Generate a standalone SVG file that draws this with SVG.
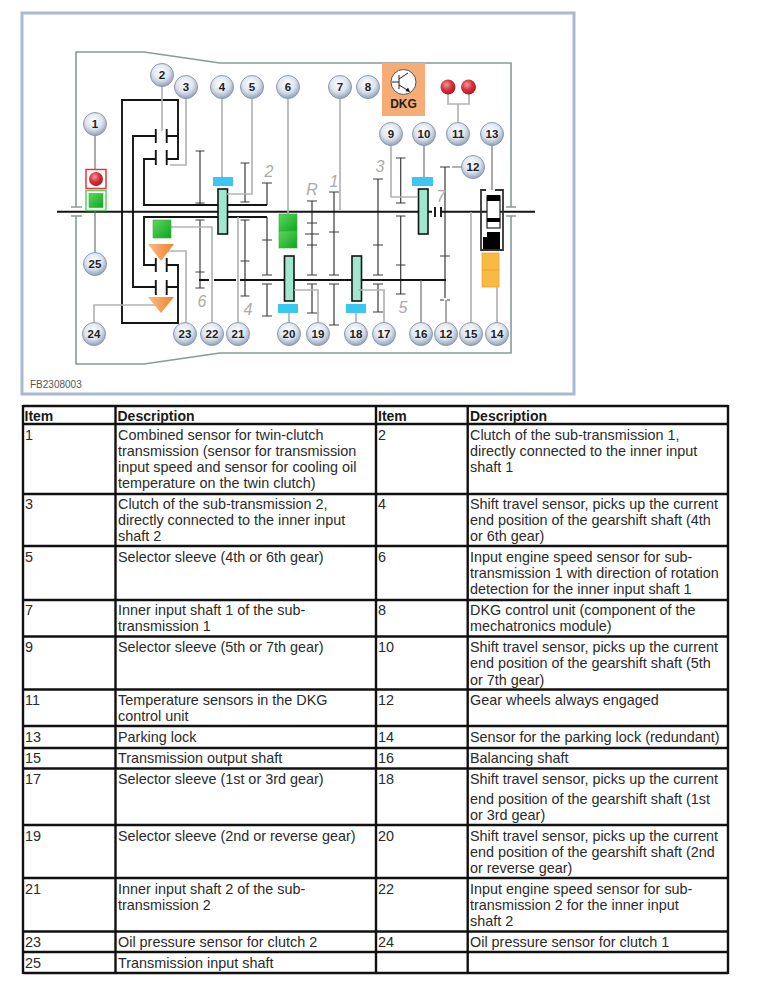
<svg xmlns="http://www.w3.org/2000/svg" width="761" height="990" viewBox="0 0 761 990">
<style>
text{font-family:"Liberation Sans",Arial,sans-serif}
.frame{fill:#fff;stroke:#a9b9d3;stroke-width:3}
.housing{fill:none;stroke:#8a9a9a;stroke-width:1.6}
.shaft{fill:none;stroke:#141414;stroke-width:1.9}
.gear{fill:none;stroke:#3a3a3a;stroke-width:1.2}
.lead{fill:none;stroke:#b4b4b4;stroke-width:1.7}
.lead1{fill:none;stroke:#666;stroke-width:1.1}
.sleeve{fill:#9fe8cf;stroke:#141414;stroke-width:1.6}
.blue{fill:#3cc6f2}
.green{fill:url(#gg);stroke:#2fae3a;stroke-width:.6}
.orange{fill:url(#og)}
.amber{fill:#f7bb45;stroke:#f0a42a;stroke-width:.8}
.badge{fill:url(#bd);stroke:#8d9bb0;stroke-width:1}
.bt{font-size:11.500px;font-weight:bold;fill:#222;text-anchor:middle}
.gn{font-size:16px;font-style:italic;fill:#aaa;text-anchor:middle}
.tl{fill:none;stroke:#111;stroke-width:2.4}
.t{font-size:14.400px;fill:#2a2a2a}
.h{font-size:14px;font-weight:bold;fill:#1a1a1a}
</style>
<defs>
<radialGradient id="bd" cx="45%" cy="36%" r="66%"><stop offset="0" stop-color="#fff"/><stop offset=".55" stop-color="#dde4ef"/><stop offset="1" stop-color="#8e9cb2"/></radialGradient>
<radialGradient id="rd" cx="40%" cy="35%" r="70%"><stop offset="0" stop-color="#f49a9a"/><stop offset=".5" stop-color="#d8323c"/><stop offset="1" stop-color="#a01822"/></radialGradient>
<linearGradient id="gg" x1="0" y1="0" x2="1" y2="1"><stop offset="0" stop-color="#5ed65e"/><stop offset="1" stop-color="#0fa51f"/></linearGradient>
<linearGradient id="og" x1="0" y1="0" x2="1" y2="0"><stop offset="0" stop-color="#f9b98a"/><stop offset="1" stop-color="#f08425"/></linearGradient>
</defs>
<rect width="761" height="990" fill="#fff"/>
<rect id="frame" class="frame" x="22" y="13" width="552" height="381"/>
<g id="housing">
<path class="housing" d="M76 207V52H144L220 63H511V207"/>
<path class="housing" d="M76 216V364H144L220 353H511V216"/>
<path class="housing" d="M71 207H82M71 216H82M506 207H516M506 216H516"/>
</g>
<g id="mechanism">
<path class="gear" d="M200 151V205M195.500 151H204.500M195.500 203H204.500M200 220V288M195.500 220H204.500M195.500 272H204.500M195.500 288H204.500"/>
<path class="gear" d="M245 163V202M240.500 163H249.500M240.500 202H249.500M245 220V296M240.500 220H249.500M240.500 261H249.500M240.500 296H249.500"/>
<path class="gear" d="M267 183V205M262 183H272M267 217V275M262 240H272M262 275H272M267 284V316M262 284H272M262 316H272"/>
<path class="gear" d="M312 201V275M307 201H317M307 223H317M305 234H319M307 245H317M307 275H317M312 284V313M307 284H317M307 313H317"/>
<path class="gear" d="M334 192V275M329 192H339M329 232H339M329 275H339M334 284V325M329 284H339M329 325H339"/>
<path class="gear" d="M378 179V275M373 179H383M373 245H383M373 275H383M378 284V312M373 284H383M373 312H383"/>
<path class="gear" d="M400.700 158V203M396 158H405.500M396 203H405.500M400.700 216V294M396 216H405.500M396 265H405.500M396 294H405.500"/>
<path class="gear" d="M445 167V298M440 167H450M440 256H450M440 300H444M447 300H450"/>
<path class="shaft" d="M57 211.700H432M441 211.700H535"/>
<path class="shaft" d="M435 207V217M441 207V217" stroke-width="1.600"/>
<path class="shaft" d="M122 211V323H178V265H167M122 212V100H178V159H167M178 136H167M178 287H167"/>
<path class="shaft" d="M133 211V136H156M133 212V287H156"/>
<path class="shaft" d="M156 159H144V205H267M156 265H144V217H267"/>
<path class="shaft" stroke-width="2.200" d="M155.800 129V143M155.800 150V165M166.700 129V143M166.700 150V165M155.800 258V272M155.800 280V295M166.700 258V272M166.700 280V295"/>
<path class="shaft" d="M199 280H209M214 280H236M240 280H284M294 280H352M361 280H446"/>
<rect class="sleeve" x="218" y="189" width="9.500" height="45"/>
<rect class="sleeve" x="418.500" y="189" width="9.500" height="45"/>
<rect class="sleeve" x="284.500" y="256" width="9.500" height="45"/>
<rect class="sleeve" x="352" y="256" width="9.500" height="45"/>
<text class="gn" x="269" y="177">2</text>
<text class="gn" x="312" y="195">R</text>
<text class="gn" x="334" y="187">1</text>
<text class="gn" x="380" y="172">3</text>
<text class="gn" x="441" y="202">7</text>
<text class="gn" x="202" y="307">6</text>
<text class="gn" x="248" y="315">4</text>
<text class="gn" x="403" y="313">5</text>
</g>
<g id="connectors">
<path class="lead1" d="M95 135V169M95 211V252"/>
<path class="lead" d="M162 87V131M186 98V165H170M222 98V178M252 98V194H227M288 98V214M340 98V210"/>
<path class="lead" d="M448 93V104H469V93M458 104V123M391 146V197H418"/>
<path class="lead1" d="M424 146V178M452 167H462M492 146V190"/>
<path class="lead" d="M94 322V305H155M186 322V251H166M212 322V227H171M238 322V217M289 322V313M318 322V290H294M356 322V313M384 322V290H358"/>
<path class="lead1" d="M421 322V280M446 322V300"/>
<path class="lead" d="M471 322V212M497 322V285"/>
</g>
<g id="node-combined-sensor">
<rect x="86" y="169.500" width="20" height="19" fill="#fff" stroke="#e03a3a" stroke-width="1.500"/>
<circle cx="96" cy="179" r="7" fill="url(#rd)"/>
<rect x="86" y="190.500" width="20" height="20" fill="#fff" stroke="#5fd05f" stroke-width="1.500"/>
<rect x="89" y="193.500" width="14" height="14" class="green"/>
</g>
<g id="node-sensor-6"><rect class="green" x="279" y="214" width="18" height="17"/><rect class="green" x="279" y="231" width="18" height="17"/></g>
<g id="node-sensor-22"><rect class="green" x="153" y="220" width="18" height="18"/></g>
<g id="node-sensor-23"><polygon class="orange" points="148,244 174,244 161,261"/></g>
<g id="node-sensor-24"><polygon class="orange" points="148,297 174,297 161,313"/></g>
<g id="node-travel-4"><rect class="blue" x="213" y="177" width="20" height="9"/></g>
<g id="node-travel-10"><rect class="blue" x="412" y="177" width="21" height="9"/></g>
<g id="node-travel-20"><rect class="blue" x="278" y="304" width="20" height="9"/></g>
<g id="node-travel-18"><rect class="blue" x="346" y="304" width="20" height="9"/></g>
<g id="node-dkg">
<rect x="382" y="63" width="43" height="53" fill="#f6ac75"/>
<circle cx="403.500" cy="82" r="12.500" fill="#fff" stroke="#555" stroke-width="1"/>
<path d="M392 82H399M399 75V89M399 79L408 73M399 85L409 91" fill="none" stroke="#222" stroke-width="1"/>
<polygon points="410,92 405.500,91 408,87.500" fill="#111"/>
<text x="403.500" y="108" font-size="12" font-weight="bold" fill="#222" text-anchor="middle">DKG</text>
</g>
<g id="node-temp"><circle cx="448" cy="87" r="7.500" fill="url(#rd)"/><circle cx="468.500" cy="87" r="7.500" fill="url(#rd)"/></g>
<g id="node-parking-lock">
<path d="M486 190H481V250H503V190H495" fill="none" stroke="#333" stroke-width="1.800"/>
<rect x="487" y="196" width="13" height="32" fill="#fff" stroke="#222" stroke-width="1.200"/>
<rect x="487" y="195" width="13" height="6" fill="#000"/>
<rect x="487" y="218" width="13" height="4" fill="#000"/>
<polygon points="483,249 483,237 487,237 487,232 500,232 500,249" fill="#000"/>
</g>
<g id="node-sensor-14"><rect class="amber" x="482" y="253" width="17" height="17"/><rect class="amber" x="482" y="270" width="17" height="17"/></g>
<g id="badges">
<g id="n1"><circle class="badge" cx="95" cy="124" r="11.500"/><text class="bt" x="95" y="128">1</text></g>
<g id="n2"><circle class="badge" cx="162" cy="75" r="11.500"/><text class="bt" x="162" y="79">2</text></g>
<g id="n3"><circle class="badge" cx="186" cy="87" r="11.500"/><text class="bt" x="186" y="91">3</text></g>
<g id="n4"><circle class="badge" cx="222" cy="87" r="11.500"/><text class="bt" x="222" y="91">4</text></g>
<g id="n5"><circle class="badge" cx="252" cy="87" r="11.500"/><text class="bt" x="252" y="91">5</text></g>
<g id="n6"><circle class="badge" cx="288" cy="87" r="11.500"/><text class="bt" x="288" y="91">6</text></g>
<g id="n7"><circle class="badge" cx="340" cy="87" r="11.500"/><text class="bt" x="340" y="91">7</text></g>
<g id="n8"><circle class="badge" cx="368" cy="87" r="11.500"/><text class="bt" x="368" y="91">8</text></g>
<g id="n9"><circle class="badge" cx="391" cy="134" r="11.500"/><text class="bt" x="391" y="138">9</text></g>
<g id="n10"><circle class="badge" cx="424" cy="134" r="11.500"/><text class="bt" x="424" y="138">10</text></g>
<g id="n11"><circle class="badge" cx="458" cy="134" r="11.500"/><text class="bt" x="458" y="138">11</text></g>
<g id="n13"><circle class="badge" cx="492" cy="134" r="11.500"/><text class="bt" x="492" y="138">13</text></g>
<g id="n12a"><circle class="badge" cx="473" cy="167" r="11.500"/><text class="bt" x="473" y="171">12</text></g>
<g id="n25"><circle class="badge" cx="95" cy="264" r="11.500"/><text class="bt" x="95" y="268">25</text></g>
<g id="n24"><circle class="badge" cx="94" cy="334" r="11.500"/><text class="bt" x="94" y="338">24</text></g>
<g id="n23"><circle class="badge" cx="185" cy="334" r="11.500"/><text class="bt" x="185" y="338">23</text></g>
<g id="n22"><circle class="badge" cx="212" cy="334" r="11.500"/><text class="bt" x="212" y="338">22</text></g>
<g id="n21"><circle class="badge" cx="238" cy="334" r="11.500"/><text class="bt" x="238" y="338">21</text></g>
<g id="n20"><circle class="badge" cx="289" cy="334" r="11.500"/><text class="bt" x="289" y="338">20</text></g>
<g id="n19"><circle class="badge" cx="318" cy="334" r="11.500"/><text class="bt" x="318" y="338">19</text></g>
<g id="n18"><circle class="badge" cx="356" cy="334" r="11.500"/><text class="bt" x="356" y="338">18</text></g>
<g id="n17"><circle class="badge" cx="384" cy="334" r="11.500"/><text class="bt" x="384" y="338">17</text></g>
<g id="n16"><circle class="badge" cx="421" cy="334" r="11.500"/><text class="bt" x="421" y="338">16</text></g>
<g id="n12b"><circle class="badge" cx="446" cy="334" r="11.500"/><text class="bt" x="446" y="338">12</text></g>
<g id="n15"><circle class="badge" cx="471" cy="334" r="11.500"/><text class="bt" x="471" y="338">15</text></g>
<g id="n14"><circle class="badge" cx="497" cy="334" r="11.500"/><text class="bt" x="497" y="338">14</text></g>
</g>
<text x="30" y="388" font-size="10" fill="#555">FB2308003</text>
<g id="table">
<path class="tl" d="M23 406H728M23 424H728M23 494H728M23 546H728M23 600H728M23 636.500H728M23 689.500H728M23 726H728M23 748H728M23 768.500H728M23 825H728M23 878H728M23 931.500H728M23 952H728M23 973H728"/>
<path class="tl" d="M23 405V974M115.500 405V974M376 405V974M467.700 405V974M728 405V974"/>
<text class="h" x="24.500" y="421">Item</text><text class="h" x="117.500" y="421">Description</text><text class="h" x="378" y="421">Item</text><text class="h" x="470" y="421">Description</text>
<text class="t"><tspan x="25" y="440">1</tspan><tspan x="118" y="440">Combined sensor for twin-clutch</tspan><tspan x="118" y="456">transmission (sensor for transmission</tspan><tspan x="118" y="472">input speed and sensor for cooling oil</tspan><tspan x="118" y="488">temperature on the twin clutch)</tspan></text>
<text class="t"><tspan x="378" y="440">2</tspan><tspan x="470" y="440">Clutch of the sub-transmission 1,</tspan><tspan x="470" y="456">directly connected to the inner input</tspan><tspan x="470" y="472">shaft 1</tspan></text>
<text class="t"><tspan x="25" y="509">3</tspan><tspan x="118" y="509">Clutch of the sub-transmission 2,</tspan><tspan x="118" y="525">directly connected to the inner input</tspan><tspan x="118" y="541">shaft 2</tspan></text>
<text class="t"><tspan x="378" y="509">4</tspan><tspan x="470" y="509">Shift travel sensor, picks up the current</tspan><tspan x="470" y="525">end position of the gearshift shaft (4th</tspan><tspan x="470" y="541">or 6th gear)</tspan></text>
<text class="t"><tspan x="25" y="562">5</tspan><tspan x="118" y="562">Selector sleeve (4th or 6th gear)</tspan></text>
<text class="t"><tspan x="378" y="562">6</tspan><tspan x="470" y="562">Input engine speed sensor for sub-</tspan><tspan x="470" y="578">transmission 1 with direction of rotation</tspan><tspan x="470" y="594">detection for the inner input shaft 1</tspan></text>
<text class="t"><tspan x="25" y="615">7</tspan><tspan x="118" y="615">Inner input shaft 1 of the sub-</tspan><tspan x="118" y="631">transmission 1</tspan></text>
<text class="t"><tspan x="378" y="615">8</tspan><tspan x="470" y="615">DKG control unit (component of the</tspan><tspan x="470" y="631">mechatronics module)</tspan></text>
<text class="t"><tspan x="25" y="652">9</tspan><tspan x="118" y="652">Selector sleeve (5th or 7th gear)</tspan></text>
<text class="t"><tspan x="378" y="652">10</tspan><tspan x="470" y="652">Shift travel sensor, picks up the current</tspan><tspan x="470" y="668">end position of the gearshift shaft (5th</tspan><tspan x="470" y="685">or 7th gear)</tspan></text>
<text class="t"><tspan x="25" y="705">11</tspan><tspan x="118" y="705">Temperature sensors in the DKG</tspan><tspan x="118" y="721">control unit</tspan></text>
<text class="t"><tspan x="378" y="705">12</tspan><tspan x="470" y="705">Gear wheels always engaged</tspan></text>
<text class="t"><tspan x="25" y="742">13</tspan><tspan x="118" y="742">Parking lock</tspan></text>
<text class="t"><tspan x="378" y="742">14</tspan><tspan x="470" y="742">Sensor for the parking lock (redundant)</tspan></text>
<text class="t"><tspan x="25" y="763">15</tspan><tspan x="118" y="763">Transmission output shaft</tspan></text>
<text class="t"><tspan x="378" y="763">16</tspan><tspan x="470" y="763">Balancing shaft</tspan></text>
<text class="t"><tspan x="25" y="784">17</tspan><tspan x="118" y="784">Selector sleeve (1st or 3rd gear)</tspan></text>
<text class="t"><tspan x="378" y="784">18</tspan><tspan x="470" y="784">Shift travel sensor, picks up the current</tspan><tspan x="470" y="804">end position of the gearshift shaft (1st</tspan><tspan x="470" y="820">or 3rd gear)</tspan></text>
<text class="t"><tspan x="25" y="841">19</tspan><tspan x="118" y="841">Selector sleeve (2nd or reverse gear)</tspan></text>
<text class="t"><tspan x="378" y="841">20</tspan><tspan x="470" y="841">Shift travel sensor, picks up the current</tspan><tspan x="470" y="857">end position of the gearshift shaft (2nd</tspan><tspan x="470" y="873">or reverse gear)</tspan></text>
<text class="t"><tspan x="25" y="894">21</tspan><tspan x="118" y="894">Inner input shaft 2 of the sub-</tspan><tspan x="118" y="910">transmission 2</tspan></text>
<text class="t"><tspan x="378" y="894">22</tspan><tspan x="470" y="894">Input engine speed sensor for sub-</tspan><tspan x="470" y="910">transmission 2 for the inner input</tspan><tspan x="470" y="926">shaft 2</tspan></text>
<text class="t"><tspan x="25" y="947">23</tspan><tspan x="118" y="947">Oil pressure sensor for clutch 2</tspan></text>
<text class="t"><tspan x="378" y="947">24</tspan><tspan x="470" y="947">Oil pressure sensor for clutch 1</tspan></text>
<text class="t"><tspan x="25" y="968">25</tspan><tspan x="118" y="968">Transmission input shaft</tspan></text>
</g>
</svg>
